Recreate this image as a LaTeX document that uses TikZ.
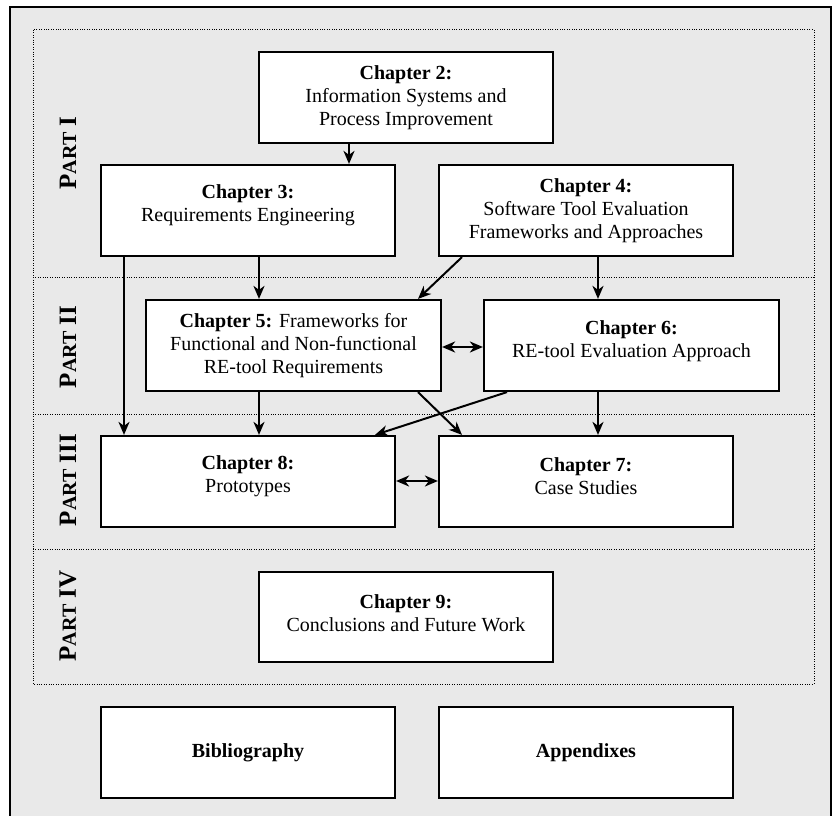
\documentclass[tikz,border=0pt]{standalone}
\usepackage{fontspec}
\setmainfont{Liberation Serif}
\usetikzlibrary{arrows.meta}
\definecolor{panel}{HTML}{E9E9E9}
\tikzset{
  chbox/.style={draw, line width=2.2pt, fill=white, inner sep=0pt},
  chtext/.style={align=center, inner sep=0pt, font=\fontsize{20}{23}\selectfont},
  tip/.style={Stealth[length=13pt, width=11pt, inset=4pt]},
  link/.style={line width=2pt, -{Stealth[length=13pt, width=11pt, inset=4pt]}},
  dlink/.style={line width=2pt, {Stealth[length=13pt, width=11pt, inset=4pt]}-{Stealth[length=13pt, width=11pt, inset=4pt]}},
  partline/.style={line width=1pt, dash pattern=on 1pt off 1.4pt},
  partlabel/.style={rotate=90, inner sep=0pt, font=\bfseries}
}
\newcommand{\thesispart}[1]{{\fontsize{25}{25}\selectfont P\fontsize{20}{20}\selectfont ART\fontsize{25}{25}\selectfont\ #1}}
\begin{document}
\begin{tikzpicture}[x=1pt, y=-1pt]
  \useasboundingbox (0,0) rectangle (833,816);
  \begin{scope}
    \clip (0,0) rectangle (833,816);
    % outer panel
    \draw[fill=panel, line width=1.2pt] (10,7) rectangle (831,830);
  \end{scope}
  % dotted part regions
  \draw[partline] (33,30) rectangle (814,684);
  \draw[partline] (33,277) -- (814,277);
  \draw[partline] (33,414) -- (814,414);
  \draw[partline] (33,549) -- (814,549);
  % part labels
  \node[partlabel] (p1) at (68,153) {\thesispart{I}};
  \node[partlabel] (p2) at (68,347) {\thesispart{II}};
  \node[partlabel] (p3) at (68,480) {\thesispart{III}};
  \node[partlabel] (p4) at (68,616) {\thesispart{IV}};
  % chapter boxes
  \node[chbox, minimum width=294pt, minimum height=91pt] (c2) at (406,97.5) {};
  \node[chbox, minimum width=294pt, minimum height=91pt] (c3) at (248,210.5) {};
  \node[chbox, minimum width=294pt, minimum height=91pt] (c4) at (586,210.5) {};
  \node[chbox, minimum width=295pt, minimum height=91pt] (c5) at (293.5,345.5) {};
  \node[chbox, minimum width=295pt, minimum height=91pt] (c6) at (631.5,345.5) {};
  \node[chbox, minimum width=294pt, minimum height=91pt] (c8) at (248,481.5) {};
  \node[chbox, minimum width=294pt, minimum height=91pt] (c7) at (586,481.5) {};
  \node[chbox, minimum width=294pt, minimum height=90pt] (c9) at (406,617) {};
  \node[chbox, minimum width=294pt, minimum height=91pt] (bib) at (248,752.5) {};
  \node[chbox, minimum width=294pt, minimum height=91pt] (app) at (586,752.5) {};
  % box texts
  \node[chtext] (c2t) at (c2.center) {\textbf{Chapter 2:}\\Information Systems and\\Process Improvement};
  \node[chtext] (c3t) at ([yshift=5pt]c3.center) {\textbf{Chapter 3:}\\Requirements Engineering};
  \node[chtext] (c4t) at (c4.center) {\textbf{Chapter 4:}\\Software Tool Evaluation\\Frameworks and Approaches};
  \node[chtext] (c5t) at (c5.center) {\textbf{Chapter 5:} Frameworks for\\Functional and Non-functional\\RE-tool Requirements};
  \node[chtext] (c6t) at ([yshift=4.5pt]c6.center) {\textbf{Chapter 6:}\\RE-tool Evaluation Approach};
  \node[chtext] (c8t) at ([yshift=5pt]c8.center) {\textbf{Chapter 8:}\\Prototypes};
  \node[chtext] (c7t) at ([yshift=5pt]c7.center) {\textbf{Chapter 7:}\\Case Studies};
  \node[chtext] (c9t) at ([yshift=4pt]c9.center) {\textbf{Chapter 9:}\\Conclusions and Future Work};
  \node[chtext] (bibt) at (bib.center) {\textbf{Bibliography}};
  \node[chtext] (appt) at (app.center) {\textbf{Appendixes}};
  % dependencies
  \draw[link] (c2.south -| 349,0) -- (c3.north -| 349,0);
  \draw[link] (c3.south -| 124,0) -- (c8.north -| 124,0);
  \draw[link] (c3.south -| 259,0) -- (c5.north -| 259,0);
  \draw[link] (c4.south -| 462,0) -- (c5.north -| 418,0);
  \draw[link] (c4.south -| 598,0) -- (c6.north -| 598,0);
  \draw[dlink] (c5.east |- 0,347) -- (c6.west |- 0,347);
  \draw[link] (c5.south -| 259,0) -- (c8.north -| 259,0);
  \draw[link] (c5.south -| 418,0) -- (c7.north -| 462,0);
  \draw[link] (c6.south -| 507,0) -- (c8.north -| 375,0);
  \draw[link] (c6.south -| 598,0) -- (c7.north -| 598,0);
  \draw[dlink] (c8.east |- 0,481) -- (c7.west |- 0,481);
\end{tikzpicture}
\end{document}
